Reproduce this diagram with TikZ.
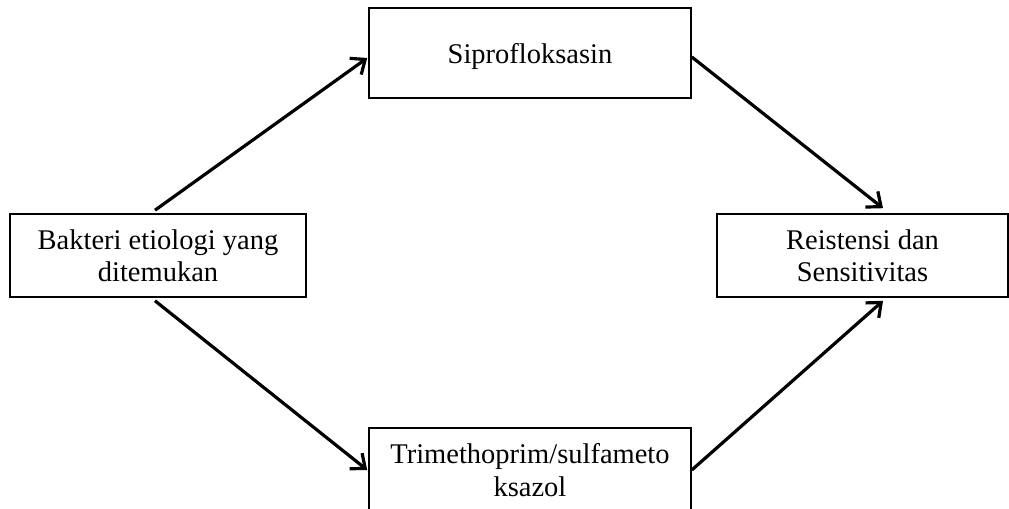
\documentclass[tikz,border=0pt]{standalone}
\usepackage{fontspec}
\setmainfont{Liberation Serif}
\usepackage{tikz}
\usetikzlibrary{arrows.meta,calc}

\begin{document}
\begin{tikzpicture}[x=1bp,y=-1bp,
  vbox/.style={draw=cv,fill=cfv,text=clv,shape=rectangle,line width=1.6bp,inner sep=0pt,
    align=center,text depth=0pt,font=\fontsize{28.5bp}{32.5bp}\selectfont},
  edge/.style={draw=cedge,line width=3.2bp,-{Straight Barb[length=12bp,width=20bp]}}]
\definecolor{cv}{rgb}{0.0,0.0,0.0}
\definecolor{cfv}{rgb}{1.0,1.0,1.0}
\definecolor{clv}{rgb}{0.0,0.0,0.0}
\definecolor{cedge}{rgb}{0.0,0.0,0.0}
\useasboundingbox (0,0) rectangle (1009,509);
%
\node[vbox,minimum width=296bp,minimum height=83bp] (v0) at (158,255.5) {Bakteri etiologi yang\\ditemukan};
\node[vbox,minimum width=322bp,minimum height=90bp] (v1) at (530,53) {Siprofloksasin};
\node[vbox,minimum width=322bp,minimum height=84bp] (v2) at (530,470) {Trimethoprim/sulfameto\\ksazol};
\node[vbox,minimum width=291bp,minimum height=83bp] (v3) at (862.5,255.5) {Reistensi dan\\Sensitivitas};
%
\draw[edge] ($(v0.north)+(-3,-3)$) -- ($(v1.west)+(-1,5)$);
\draw[edge] ($(v1.east)+(0,4)$) -- ($(v3.north)+(20.5,-5)$);
\draw[edge] ($(v0.south)+(-3,3)$) -- ($(v2.west)+(-1,0)$);
\draw[edge] (v2.east) -- ($(v3.south)+(20.5,3)$);
%
\end{tikzpicture}
\end{document}
